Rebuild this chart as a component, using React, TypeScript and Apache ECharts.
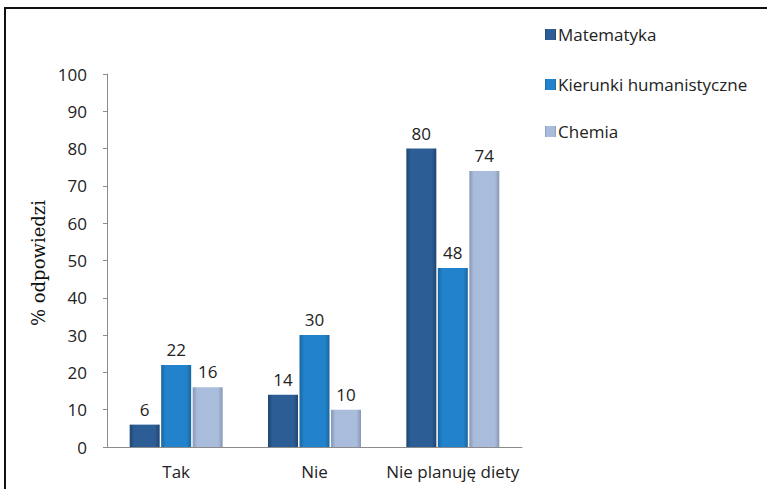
import React, { useEffect, useRef } from "react";
import * as echarts from "echarts";

const categories = ["Tak", "Nie", "Nie planuję diety"];
const seriesNames = ["Matematyka", "Kierunki humanistyczne", "Chemia"];
const matematyka = [6, 14, 80];
const humanistyczne = [22, 30, 48];
const chemia = [16, 10, 74];
const yTicks = { min: 0, max: 100, interval: 10 };
const yAxisTitle = "% odpowiedzi";

const FONT = "'Open Sans', 'Noto Sans', sans-serif";

function grad(edge: string, mid: string) {
  return new echarts.graphic.LinearGradient(0, 0, 1, 0, [
    { offset: 0, color: edge },
    { offset: 0.15, color: mid },
    { offset: 0.85, color: mid },
    { offset: 1, color: edge },
  ]);
}

export default function App() {
  const ref = useRef<HTMLDivElement>(null);
  useEffect(() => {
    if (!ref.current) return;
    const chart = echarts.init(ref.current, undefined, { renderer: "svg" });
    const colors = [
      grad("#1f4573", "#2c5d94"),
      grad("#18679f", "#2282cc"),
      grad("#8797b5", "#a9bcdc"),
    ];
    const data = [matematyka, humanistyczne, chemia];
    const legendTops = [21, 71, 118];
    chart.setOption({
      animation: false,
      backgroundColor: "#fff",
      graphic: [
        {
          type: "rect",
          shape: { x: 5, y: 8, width: 900, height: 700 },
          style: { fill: "none", stroke: "#111", lineWidth: 2 },
          silent: true,
        },
        {
          type: "text",
          x: 38,
          y: 263,
          rotation: Math.PI / 2,
          style: {
            text: yAxisTitle,
            fontFamily: "DejaVu Serif",
            fontSize: 18,
            fill: "#111",
            align: "center",
            verticalAlign: "middle",
          },
          silent: true,
        },
      ],
      legend: seriesNames.map((n, i) => ({
        orient: "vertical",
        left: 540,
        top: legendTops[i],
        itemWidth: 11,
        itemHeight: 11,
        icon: "rect",
        textStyle: { fontFamily: FONT, fontSize: 17, color: "#222", padding: [0, 0, 0, -3] },
        data: [n],
      })),
      grid: { left: 107, right: 245, top: 74, bottom: 42, containLabel: false },
      xAxis: {
        type: "category",
        data: categories,
        axisLine: { lineStyle: { color: "#8c8c8c" } },
        axisTick: { show: false },
        axisLabel: { fontFamily: FONT, fontSize: 17, color: "#222", margin: 16, interval: 0 },
      },
      yAxis: {
        type: "value",
        min: yTicks.min,
        max: yTicks.max,
        interval: yTicks.interval,
        axisLine: { show: true, lineStyle: { color: "#8c8c8c" } },
        axisTick: { show: true, inside: false, length: 4, lineStyle: { color: "#8c8c8c" } },
        splitLine: { show: false },
        axisLabel: { fontFamily: FONT, fontSize: 17, color: "#222", margin: 20 },
      },
      series: seriesNames.map((name, i) => ({
        name,
        type: "bar",
        data: data[i],
        barWidth: 30,
        barGap: "5%",
        itemStyle: { color: colors[i] },
        label: {
          show: true,
          position: "top",
          distance: 7,
          fontFamily: FONT,
          fontSize: 17,
          color: "#222",
        },
      })),
    });
    return () => chart.dispose();
  }, []);
  return (
    <div
      ref={ref}
      style={{ position: "absolute", left: 0, top: 0, width: 767, height: 489 }}
    />
  );
}
